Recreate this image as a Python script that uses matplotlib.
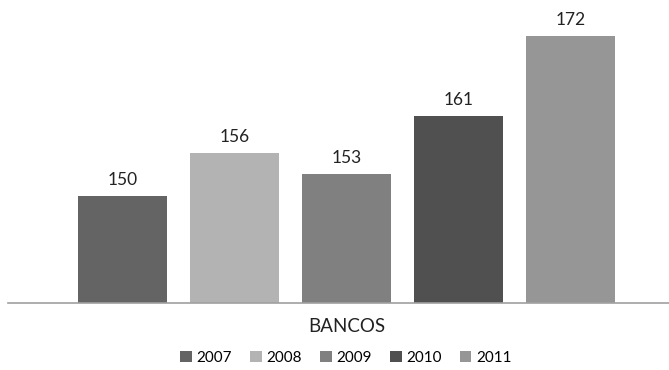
import matplotlib.pyplot as plt
import numpy as np

anios = ['2007', '2008', '2009', '2010', '2011']
valores = [150, 156, 153, 161, 172]
colores = ['#646464', '#b3b3b3', '#808080', '#505050', '#969696']
categoria = 'BANCOS'

plt.rcParams['font.family'] = ['Lato', 'DejaVu Sans']

fig = plt.figure(figsize=(6.69, 3.70), dpi=100)
ax = fig.add_axes([8 / 669, 1 - 303 / 370, 1 - 8 / 669, 303 / 370])

x = np.arange(len(anios))
barras = ax.bar(x, valores, width=0.795, color=colores, label=anios, zorder=2)
for xi, v in zip(x, valores):
    ax.text(xi, v + 1.1, str(v), ha='center', va='bottom', fontsize=12.5, color='#222222')

ax.set_xlim(-1.02, 4.88)
ax.set_ylim(135.3, 177)
ax.set_xticks([])
ax.set_yticks([])
for lado in ['top', 'right', 'left']:
    ax.spines[lado].set_visible(False)
ax.spines['bottom'].set_color('#a0a0a0')
ax.spines['bottom'].set_linewidth(1.2)

fig.text(ax.transData.transform((2, 0))[0] / fig.bbox.width, 1 - 327 / 370, categoria,
         ha='center', va='center', fontsize=13.5, color='#222222')

fig.legend(barras, anios, loc='center', bbox_to_anchor=(346 / 669, 1 - 358 / 370), ncol=5,
           frameon=False, fontsize=11, handlelength=0.75, handleheight=0.75,
           handletextpad=0.3, columnspacing=1.2)

fig.savefig('out.png', dpi=100, facecolor='white')
